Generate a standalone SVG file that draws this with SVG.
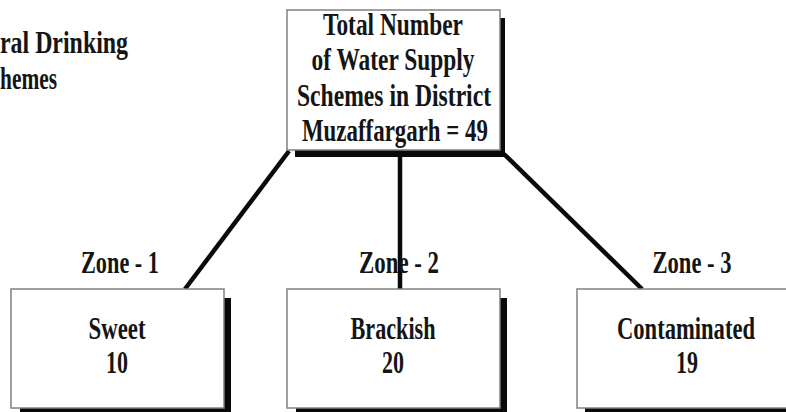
<svg xmlns="http://www.w3.org/2000/svg" width="786" height="412" viewBox="0 0 786 412">
<style>
.box{fill:#fff;stroke:#808080;stroke-width:1.5}
.sh{fill:#0a0a0a}
.t{font-family:"Liberation Serif","Times New Roman",serif;font-weight:bold;font-size:31px;fill:#151515}
.c{text-anchor:middle}
.ln{stroke:#0a0a0a;stroke-width:4.5;fill:none;stroke-linecap:butt}
</style>
<rect width="786" height="412" fill="#fff"/>
<g id="title">
<text class="t" x="0" y="53" textLength="128" lengthAdjust="spacingAndGlyphs">ral Drinking</text>
<text class="t" x="0" y="89" textLength="57" lengthAdjust="spacingAndGlyphs">hemes</text>
</g>
<g id="connectors">
<line class="ln" x1="289" y1="151" x2="185" y2="289"/>
<line class="ln" x1="400" y1="155" x2="400" y2="289"/>
<line class="ln" x1="504" y1="154" x2="642" y2="289"/>
</g>
<g id="labels">
<text class="t c" x="120" y="273" textLength="78" lengthAdjust="spacingAndGlyphs">Zone - 1</text>
<text class="t c" x="399" y="273" textLength="80" lengthAdjust="spacingAndGlyphs">Zone - 2</text>
<text class="t c" x="692" y="273" textLength="79" lengthAdjust="spacingAndGlyphs">Zone - 3</text>
</g>
<g id="total">
<rect class="sh" x="295" y="18" width="210" height="139"/>
<rect class="box" x="287" y="10" width="213" height="140"/>
<text class="t c" x="393" y="35" textLength="140" lengthAdjust="spacingAndGlyphs">Total Number</text>
<text class="t c" x="393" y="70" textLength="163" lengthAdjust="spacingAndGlyphs">of Water Supply</text>
<text class="t c" x="394" y="106" textLength="194" lengthAdjust="spacingAndGlyphs">Schemes in District</text>
<text class="t c" x="395" y="141" textLength="186" lengthAdjust="spacingAndGlyphs">Muzaffargarh = 49</text>
</g>
<g id="sweet">
<rect class="sh" x="20" y="298" width="211" height="120"/>
<rect class="box" x="11" y="289" width="213" height="119"/>
<text class="t c" x="117" y="339" textLength="57" lengthAdjust="spacingAndGlyphs">Sweet</text>
<text class="t c" x="117" y="373" textLength="22" lengthAdjust="spacingAndGlyphs">10</text>
</g>
<g id="brackish">
<rect class="sh" x="296" y="298" width="211" height="120"/>
<rect class="box" x="287" y="289" width="213" height="119"/>
<text class="t c" x="393" y="339" textLength="85" lengthAdjust="spacingAndGlyphs">Brackish</text>
<text class="t c" x="393" y="373" textLength="22" lengthAdjust="spacingAndGlyphs">20</text>
</g>
<g id="contaminated">
<rect class="sh" x="585" y="298" width="220" height="120"/>
<rect class="box" x="577" y="289" width="220" height="119"/>
<text class="t c" x="686" y="339" textLength="138" lengthAdjust="spacingAndGlyphs">Contaminated</text>
<text class="t c" x="687" y="373" textLength="22" lengthAdjust="spacingAndGlyphs">19</text>
</g>
</svg>
